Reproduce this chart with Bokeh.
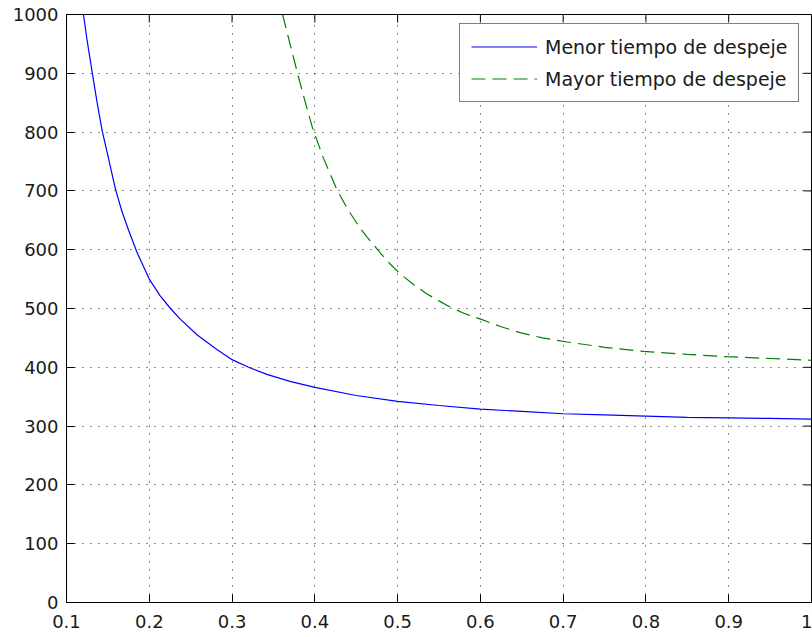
from bokeh.plotting import figure
from bokeh.models import FixedTicker, Range1d, Legend, LegendItem
from bokeh.embed import file_html
from bokeh.resources import INLINE

# ---- data ----
menor_x = [0.1205, 0.125, 0.131, 0.137, 0.143, 0.15, 0.159, 0.167, 0.175, 0.185,
           0.2, 0.213, 0.2256, 0.238, 0.258, 0.28, 0.3, 0.32, 0.342, 0.37,
           0.4, 0.45, 0.5, 0.55, 0.6, 0.65, 0.7, 0.75, 0.8, 0.85, 0.9, 0.95, 1.0]
menor_y = [1000, 955, 902, 850, 803, 760, 704, 665, 633, 596,
           550, 522, 500, 481, 455, 432, 413, 400, 388, 376,
           366, 352, 342, 335, 329, 325, 321, 319, 317, 315, 314, 313, 312]

mayor_x = [0.361, 0.37, 0.38, 0.39, 0.397, 0.41, 0.427, 0.44, 0.455, 0.463,
           0.477, 0.49, 0.503, 0.52, 0.534, 0.55, 0.564, 0.58, 0.602, 0.625,
           0.648, 0.675, 0.705, 0.75, 0.797, 0.85, 0.898, 0.95, 1.0]
mayor_y = [1000, 950, 895, 843, 808, 757, 701, 668, 636, 622,
           598, 577, 559, 540, 526, 513, 502, 492, 481, 469,
           459, 450, 443, 434, 427, 422, 418, 415, 412]

series_labels = ["Menor tiempo de despeje", "Mayor tiempo de despeje"]

x_ticks = [0.1, 0.2, 0.3, 0.4, 0.5, 0.6, 0.7, 0.8, 0.9, 1.0]
x_tick_labels = ["0.1", "0.2", "0.3", "0.4", "0.5", "0.6", "0.7", "0.8", "0.9", "1"]
y_ticks = [0, 100, 200, 300, 400, 500, 600, 700, 800, 900, 1000]
y_tick_labels = ["0", "100", "200", "300", "400", "500", "600", "700", "800", "900", "1000"]

FONT = "DejaVu Sans"
TXT = "#1a1a1a"
X0, X1, Y0, Y1 = 0.1, 1.0, 0, 1000
FRAME_W, FRAME_H = 745, 588
TICK_PX = 8

p = figure(width=812, height=637, output_backend="svg", toolbar_location=None,
           x_range=Range1d(X0, X1), y_range=Range1d(Y0, Y1),
           min_border_left=66, min_border_right=1, min_border_top=14, min_border_bottom=35)

p.background_fill_color = "white"
p.border_fill_color = "white"
p.outline_line_color = "black"
p.outline_line_width = 1


def style_axis(ax, ticks, labels, standoff):
    ax.ticker = FixedTicker(ticks=ticks)
    ax.major_label_overrides = {t: l for t, l in zip(ticks, labels)}
    ax.axis_line_color = "black"
    ax.major_tick_line_color = "black"
    ax.major_tick_in = TICK_PX
    ax.major_tick_out = 0
    ax.minor_tick_line_color = None
    ax.major_label_text_font = FONT
    ax.major_label_text_color = TXT
    ax.major_label_standoff = standoff
    ax.major_label_text_font_size = "18px"


style_axis(p.xaxis[0], x_ticks, x_tick_labels, 12)
style_axis(p.yaxis[0], y_ticks, y_tick_labels, 8)

p.xgrid[0].ticker = FixedTicker(ticks=x_ticks)
p.ygrid[0].ticker = FixedTicker(ticks=y_ticks)
for g in (p.xgrid[0], p.ygrid[0]):
    g.grid_line_color = "black"
    g.grid_line_width = 1
    g.grid_line_dash = "1 7"
    g.grid_line_alpha = 0.9

# inward tick marks on the top and right edges of the box (MATLAB style)
dy = (Y1 - Y0) * TICK_PX / FRAME_H
dx = (X1 - X0) * TICK_PX / FRAME_W
p.segment(x0=x_ticks, y0=[Y1] * len(x_ticks), x1=x_ticks, y1=[Y1 - dy] * len(x_ticks),
          line_color="black", line_width=1)
p.segment(x0=[X1] * len(y_ticks), y0=y_ticks, x1=[X1 - dx] * len(y_ticks), y1=y_ticks,
          line_color="black", line_width=1)

r1 = p.line(menor_x, menor_y, line_color="#0000ff", line_width=1.2)
r2 = p.line(mayor_x, mayor_y, line_color="#008000", line_width=1.2, line_dash="14 7")

legend = Legend(items=[LegendItem(label=series_labels[0], renderers=[r1]),
                       LegendItem(label=series_labels[1], renderers=[r2])],
                location=(393, 500))
legend.label_text_font = FONT
legend.label_text_font_size = "19px"
legend.label_text_color = TXT
legend.border_line_color = "black"
legend.border_line_width = 1
legend.background_fill_color = "white"
legend.background_fill_alpha = 1
legend.padding = 11
legend.spacing = 9
legend.label_height = 23
legend.glyph_height = 23
legend.glyph_width = 66
legend.label_standoff = 8
legend.margin = 0
p.add_layout(legend, "center")

open("out.html", "w").write(file_html(p, INLINE))
